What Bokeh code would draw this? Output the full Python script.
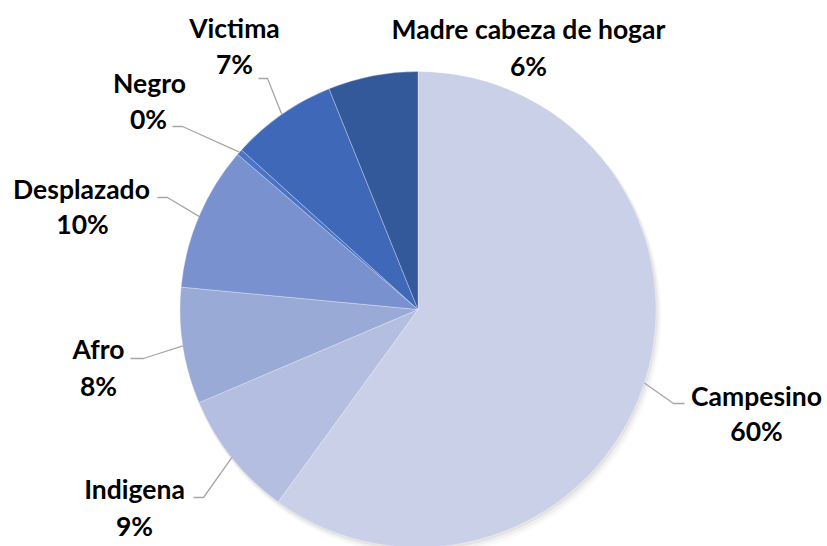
import numpy as np
from bokeh.plotting import figure
from bokeh.models import Range1d, ColumnDataSource
from bokeh.core.properties import value
from bokeh.embed import file_html
from bokeh.resources import INLINE

# ---- data (clockwise from 12 o'clock) ----
categories = ["Campesino", "Indigena", "Afro", "Desplazado", "Negro", "Victima",
              "Madre cabeza de hogar"]
values = [60.0, 8.6, 7.9, 9.8, 0.4, 7.2, 6.1]
colors = ["#C9D0E8", "#B3BEE0", "#99AAD7", "#7A91CF", "#4A74C8", "#3F69B8", "#33599A"]

W, H = 827, 546
p = figure(width=W, height=H, output_backend="svg", toolbar_location=None,
           x_range=Range1d(0, W), y_range=Range1d(0, H), min_border=0)
p.axis.visible = False
p.grid.visible = False
p.outline_line_color = None
p.background_fill_color = "white"


def px(xi, yi):
    """image pixel coords -> data coords"""
    return xi, H - yi


cx, cy = px(417.5, 309)
R = 238

vals = np.array(values)
frac = vals / vals.sum()
cum = np.concatenate([[0], np.cumsum(frac)])
start = np.pi / 2 - cum[:-1] * 2 * np.pi
end = np.pi / 2 - cum[1:] * 2 * np.pi
mid = (start + end) / 2

# soft shadow
for k, a in [(6, 0.025), (4, 0.035), (2, 0.05)]:
    p.circle(x=[cx + k * 0.6], y=[cy - k], radius=R + k * 0.3, fill_color="black",
             fill_alpha=a, line_color=None)

src = ColumnDataSource(dict(start=start, end=end, color=colors))
p.wedge(x=cx, y=cy, radius=R, start_angle="start", end_angle="end",
        direction="clock", fill_color="color", line_color="white",
        line_width=0.6, line_alpha=0.5, source=src)

# label layout (image coords): name center, percent center, elbow start, elbow corner
layout = {
    "Campesino": ((756, 395), (756, 430), (684, 403), (673, 403)),
    "Indigena": ((134, 488), (134, 525), (193, 497), (203, 497)),
    "Afro": ((98, 348), (98, 385), (130, 358), (143, 358)),
    "Desplazado": ((81, 188), (82, 223), (157, 197), (167, 197)),
    "Negro": ((149, 82), (148, 118), (172, 126), (182, 126)),
    "Victima": ((234, 27), (234, 63), (258, 78), (267, 78)),
    "Madre cabeza de hogar": ((528, 28), (528, 65), None, None),
}

font = value("Lato")
fs = "26.5px"
for i, name in enumerate(categories):
    (n_xy, p_xy, e0, e1) = layout[name]
    pct = f"{int(round(frac[i] * 100))}%"
    nx, ny = px(*n_xy)
    qx, qy = px(*p_xy)
    p.text(x=[nx], y=[ny], text=[name], text_font=font, text_font_style="bold",
           text_font_size=fs, text_align="center", text_baseline="middle",
           text_color="#000000")
    p.text(x=[qx], y=[qy], text=[pct], text_font=font, text_font_style="bold",
           text_font_size=fs, text_align="center", text_baseline="middle",
           text_color="#000000")
    if e0 is not None:
        ex = cx + R * np.cos(mid[i])
        ey = cy + R * np.sin(mid[i])
        a0 = px(*e0)
        a1 = px(*e1)
        p.line(x=[a0[0], a1[0], ex], y=[a0[1], a1[1], ey], line_color="#A6A6A6",
               line_width=1.3)

open("out.html", "w").write(file_html(p, INLINE))
